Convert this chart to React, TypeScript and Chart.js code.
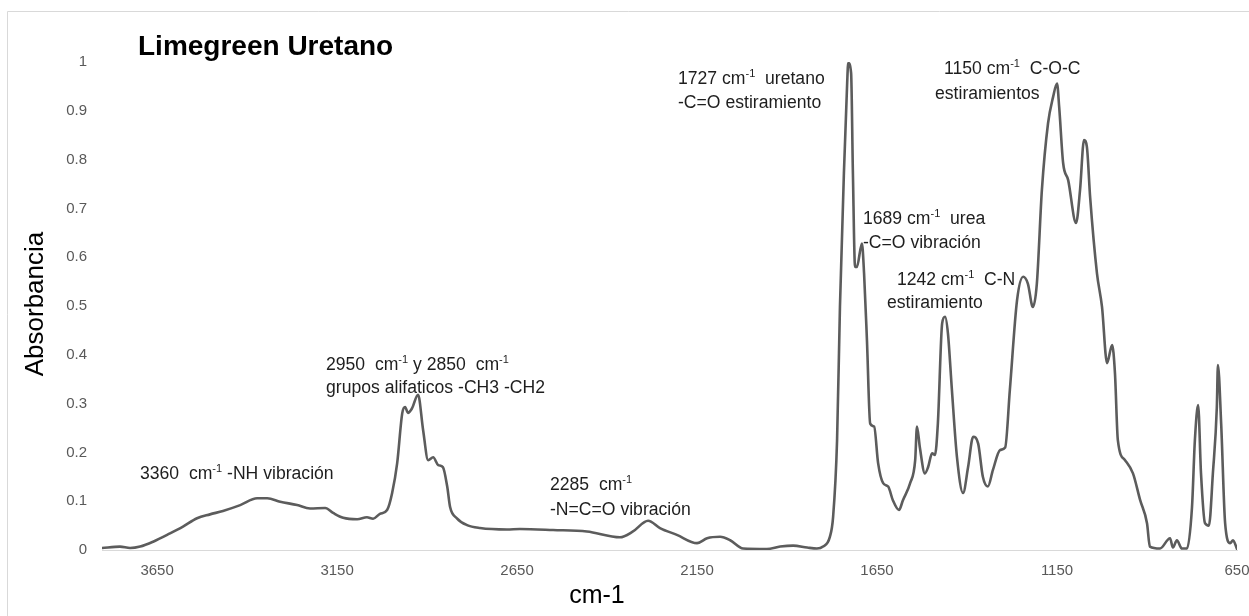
import React, { useEffect, useRef } from "react";
import { Chart, registerables } from "chart.js";

Chart.register(...registerables);

// ---- data ----
const WAVENUMBERS = [
  3803, 3753, 3725, 3697, 3661, 3614, 3578, 3539, 3503, 3467, 3419, 3372, 3344, 3308, 3261, 3225,
  3183, 3161, 3133, 3094, 3067, 3050, 3031, 3011, 2997, 2983, 2969, 2961, 2953, 2942, 2925, 2911,
  2897, 2883, 2869, 2856, 2844, 2836, 2817, 2789, 2753, 2678, 2642, 2550, 2456, 2364, 2328, 2286,
  2253, 2206, 2150, 2122, 2086, 2058, 2022, 1956, 1919, 1883, 1844, 1817, 1800, 1781, 1772, 1761,
  1753, 1742, 1733, 1730, 1722, 1717, 1711, 1706, 1692, 1686, 1678, 1669, 1658, 1647, 1633, 1619,
  1606, 1589, 1578, 1558, 1544, 1539, 1531, 1517, 1508, 1497, 1489, 1481, 1469, 1461, 1453, 1442,
  1428, 1411, 1397, 1383, 1369, 1356, 1342, 1328, 1308, 1294, 1281, 1261, 1244, 1231, 1217, 1206,
  1192, 1175, 1161, 1150, 1144, 1133, 1119, 1097, 1086, 1075, 1067, 1058, 1039, 1025, 1011, 997,
  989, 981, 961, 939, 919, 900, 892, 864, 836, 828, 817, 803, 789, 775, 767, 758,
  750, 739, 728, 717, 706, 703, 694, 683, 669, 661, 650,
];
const ABSORBANCE = [
  0.004, 0.007, 0.004, 0.007, 0.017, 0.034, 0.048, 0.065, 0.073, 0.08, 0.092, 0.106, 0.106, 0.099, 0.092, 0.085,
  0.086, 0.076, 0.066, 0.063, 0.067, 0.064, 0.074, 0.082, 0.117, 0.178, 0.28, 0.293, 0.281, 0.29, 0.318, 0.246,
  0.184, 0.19, 0.174, 0.17, 0.13, 0.088, 0.065, 0.051, 0.045, 0.042, 0.043, 0.041, 0.038, 0.026, 0.038, 0.06,
  0.045, 0.031, 0.014, 0.024, 0.027, 0.02, 0.003, 0.002, 0.007, 0.009, 0.005, 0.003, 0.007, 0.027, 0.068, 0.225,
  0.498, 0.772, 0.956, 0.998, 0.977, 0.772, 0.58, 0.58, 0.628, 0.567, 0.43, 0.259, 0.253, 0.178, 0.137, 0.13,
  0.102, 0.082, 0.102, 0.137, 0.184, 0.253, 0.21, 0.157, 0.17, 0.198, 0.195, 0.259, 0.465, 0.478, 0.444, 0.328,
  0.191, 0.117, 0.17, 0.232, 0.218, 0.15, 0.13, 0.164, 0.205, 0.21, 0.328, 0.512, 0.56, 0.546, 0.498, 0.546,
  0.738, 0.874, 0.928, 0.956, 0.908, 0.793, 0.758, 0.67, 0.738, 0.84, 0.826, 0.723, 0.567, 0.498, 0.383, 0.42,
  0.362, 0.225, 0.184, 0.157, 0.102, 0.055, 0.007, 0.003, 0.024, 0.005, 0.02, 0.003, 0.003, 0.088, 0.225, 0.297,
  0.157, 0.055, 0.05, 0.157, 0.293, 0.379, 0.259, 0.055, 0.014, 0.02, 0.002,
];
const X_TICKS = [3650, 3150, 2650, 2150, 1650, 1150, 650];
const Y_TICKS = [0, 0.1, 0.2, 0.3, 0.4, 0.5, 0.6, 0.7, 0.8, 0.9, 1];

const TITLE = "Limegreen Uretano";
const Y_TITLE = "Absorbancia";
const X_TITLE = "cm-1";

// text in {braces} is drawn as superscript
const NOTE_3360 = ["3360  cm{-1} -NH vibración"];
const NOTE_2950 = ["2950  cm{-1} y 2850  cm{-1}", "grupos alifaticos -CH3 -CH2"];
const NOTE_2285 = ["2285  cm{-1}", "-N=C=O vibración"];
const NOTE_1727 = ["1727 cm{-1}  uretano", "-C=O estiramiento"];
const NOTE_1689 = ["1689 cm{-1}  urea", "-C=O vibración"];
const NOTE_1242 = ["1242 cm{-1}  C-N", "estiramiento"];
const NOTE_1150 = ["1150 cm{-1}  C-O-C", "estiramientos"];

// ---- layout (pixel anchors: left x, baseline y of each line) ----
const FONT = '"Liberation Sans", Arial, sans-serif';
const NOTE_LAYOUT: [string[], number[][]][] = [
  [NOTE_3360, [[140, 479]]],
  [NOTE_2950, [[326, 370], [326, 393]]],
  [NOTE_2285, [[550, 490], [550, 515]]],
  [NOTE_1727, [[678, 84], [678, 108]]],
  [NOTE_1689, [[863, 224], [863, 248]]],
  [NOTE_1242, [[897, 285], [887, 308]]],
  [NOTE_1150, [[944, 74], [935, 99]]],
];

function drawRich(ctx: CanvasRenderingContext2D, text: string, x: number, y: number, size: number) {
  const parts = text.split(/(\{[^}]*\})/);
  let cx = x;
  for (const p of parts) {
    if (!p) continue;
    if (p.startsWith("{")) {
      const t = p.slice(1, -1);
      ctx.font = `${Math.round(size * 0.65)}px ${FONT}`;
      ctx.fillText(t, cx, y - size * 0.38);
      cx += ctx.measureText(t).width;
    } else {
      ctx.font = `${size}px ${FONT}`;
      ctx.fillText(p, cx, y);
      cx += ctx.measureText(p).width;
    }
  }
}

const decor = {
  id: "decor",
  beforeDraw(chart: any) {
    const ctx = chart.ctx as CanvasRenderingContext2D;
    ctx.save();
    ctx.fillStyle = "#ffffff";
    ctx.fillRect(0, 0, chart.width, chart.height);
    ctx.strokeStyle = "#d9d9d9";
    ctx.lineWidth = 1;
    ctx.beginPath();
    ctx.moveTo(7.5, chart.height + 2);
    ctx.lineTo(7.5, 11.5);
    ctx.lineTo(chart.width + 2, 11.5);
    ctx.stroke();
    ctx.restore();
  },
  afterDraw(chart: any) {
    const ctx = chart.ctx as CanvasRenderingContext2D;
    ctx.save();
    ctx.textAlign = "left";
    ctx.textBaseline = "alphabetic";
    // title
    ctx.fillStyle = "#000000";
    ctx.font = `bold 28px ${FONT}`;
    ctx.fillText(TITLE, 138, 55);
    // x axis title
    ctx.font = `25px ${FONT}`;
    ctx.textAlign = "center";
    ctx.fillText(X_TITLE, 597, 603);
    // y axis title
    ctx.save();
    ctx.translate(43, 304);
    ctx.rotate(-Math.PI / 2);
    ctx.font = `26px ${FONT}`;
    ctx.fillText(Y_TITLE, 0, 0);
    ctx.restore();
    // notes
    ctx.textAlign = "left";
    ctx.fillStyle = "#1e1e1e";
    for (const [lines, anchors] of NOTE_LAYOUT) {
      lines.forEach((line, i) => drawRich(ctx, line, anchors[i][0], anchors[i][1], 17.6));
    }
    ctx.restore();
  },
};

export default function App() {
  const ref = useRef<HTMLCanvasElement | null>(null);
  useEffect(() => {
    if (!ref.current) return;
    const chart = new Chart(ref.current, {
      type: "line",
      data: {
        datasets: [
          {
            data: WAVENUMBERS.map((x, i) => ({ x, y: ABSORBANCE[i] })),
            borderColor: "#5c5c5c",
            borderWidth: 2.6,
            pointRadius: 0,
            cubicInterpolationMode: "monotone",
            fill: false,
            borderJoinStyle: "round",
            borderCapStyle: "round",
          },
        ],
      },
      options: {
        animation: false,
        responsive: false,
        maintainAspectRatio: false,
        layout: { padding: { top: 62, right: 12, left: 0, bottom: 0 } },
        plugins: {
          legend: { display: false },
          tooltip: { enabled: false },
          title: { display: false },
        },
        scales: {
          x: {
            type: "linear",
            reverse: true,
            min: 650,
            max: 3803,
            afterBuildTicks: (s: any) => {
              s.ticks = X_TICKS.map((v) => ({ value: v }));
            },
            afterFit: (s: any) => {
              s.height = 66;
              s.paddingLeft = 0;
              s.paddingRight = 0;
            },
            grid: { display: false, drawTicks: false },
            border: { display: true, color: "#d9d9d9", width: 1 },
            ticks: {
              padding: 12,
              color: "#595959",
              font: { family: FONT, size: 15 },
              maxRotation: 0,
              autoSkip: false,
              callback: (v: any) => String(v),
            },
          },
          y: {
            type: "linear",
            min: 0,
            max: 1,
            afterBuildTicks: (s: any) => {
              s.ticks = Y_TICKS.map((v) => ({ value: v }));
            },
            afterFit: (s: any) => {
              s.width = 102;
              s.paddingTop = 0;
              s.paddingBottom = 0;
            },
            grid: { display: false, drawTicks: false },
            border: { display: false },
            ticks: {
              padding: 15,
              color: "#595959",
              font: { family: FONT, size: 15 },
              callback: (v: any) => String(Math.round(Number(v) * 10) / 10),
            },
          },
        },
      } as any,
      plugins: [decor],
    });
    return () => chart.destroy();
  }, []);
  return (
    <div style={{ position: "fixed", left: 0, top: 0, width: 1249, height: 616 }}>
      <canvas ref={ref} width={1249} height={616} style={{ display: "block" }} />
    </div>
  );
}
